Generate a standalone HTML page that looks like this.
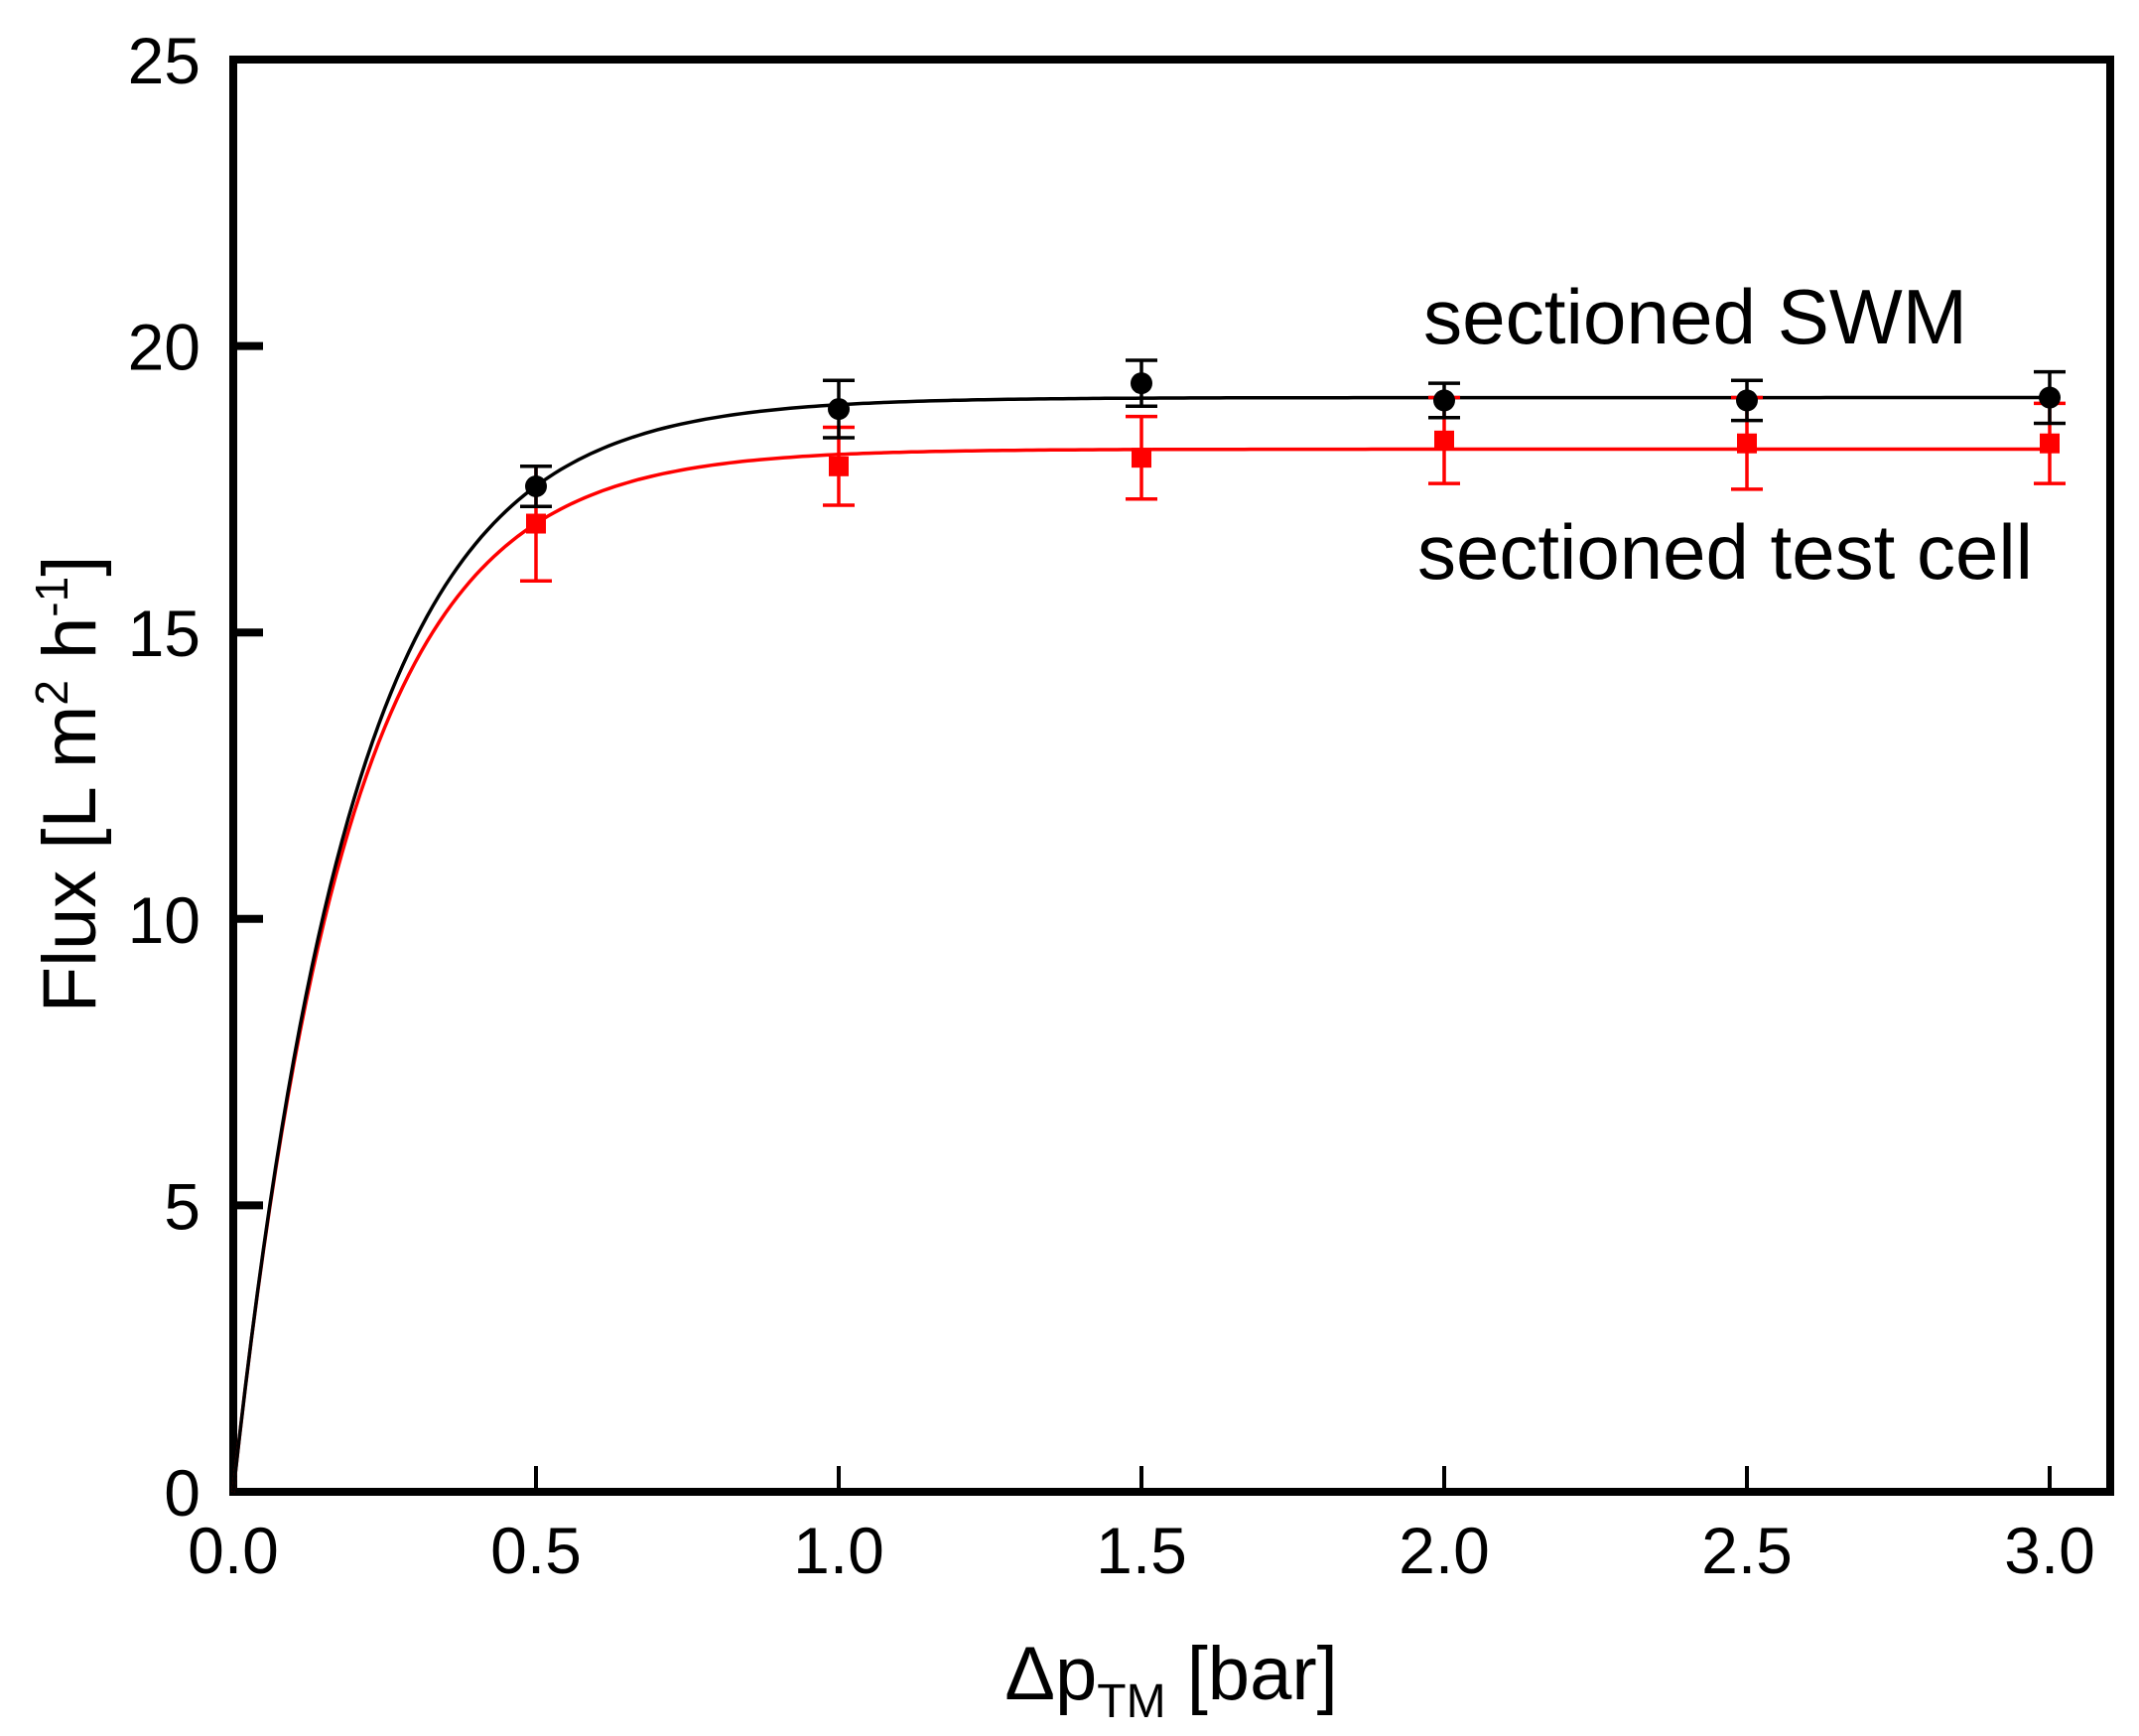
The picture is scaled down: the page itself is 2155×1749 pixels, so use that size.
<!DOCTYPE html>
<html><head><meta charset="utf-8"><style>
html,body{margin:0;padding:0;background:#fff;}
svg{display:block;font-family:"Liberation Sans",Arial,sans-serif;}
</style></head><body>
<svg id="chart" width="2155" height="1749" viewBox="0 0 2155 1749" xmlns="http://www.w3.org/2000/svg">
<g id="plot"></g>
<text x="1434" y="346" font-size="78" textLength="548" lengthAdjust="spacingAndGlyphs">sectioned SWM</text>
<text x="1428" y="583" font-size="78" textLength="620" lengthAdjust="spacingAndGlyphs">sectioned test cell</text>
<text transform="translate(96,790) rotate(-90)" text-anchor="middle" font-size="76">Flux [L m<tspan font-size="46" dy="-28">2</tspan><tspan dy="28"> h</tspan><tspan font-size="46" dy="-28">-1</tspan><tspan dy="28">]</tspan></text>
<text x="1180" y="1712" text-anchor="middle" font-size="76">Δp<tspan font-size="48" dy="18">TM</tspan><tspan dy="-18"> [bar]</tspan></text>
</svg>
<script>
const xTicks = [0.0, 0.5, 1.0, 1.5, 2.0, 2.5, 3.0];
const xTickLabels = ["0.0","0.5","1.0","1.5","2.0","2.5","3.0"];
const yTicks = [0, 5, 10, 15, 20, 25];
const yTickLabels = ["0","5","10","15","20","25"];
const pressure = [0.5, 1.0, 1.5, 2.0, 2.5, 3.0];
const swmFlux = [17.55, 18.9, 19.35, 19.05, 19.05, 19.1];
const swmErr = [0.35, 0.5, 0.4, 0.3, 0.35, 0.45];
const cellFlux = [16.9, 17.9, 18.05, 18.35, 18.3, 18.3];
const cellErr = [1.0, 0.68, 0.72, 0.75, 0.8, 0.7];
const swmFit = [19.1, 5.03];
const cellFit = [18.2, 5.28];

const NS = "http://www.w3.org/2000/svg";
const X0 = 235, X1 = 2126, Y0 = 1503, Y1 = 60;
const sx = v => X0 + v * 610;
const sy = v => Y0 - v * (Y0 - Y1) / 25;
const g = document.getElementById('plot');
function mk(tag, attrs) {
  const e = document.createElementNS(NS, tag);
  for (const k in attrs) e.setAttribute(k, attrs[k]);
  g.appendChild(e);
  return e;
}
const frame = mk('rect', {x: X0, y: Y1, width: X1 - X0, height: Y0 - Y1, fill: 'none', stroke: '#000', 'stroke-width': 8});


xTicks.forEach((t, i) => {
  const l = mk('line', {x1: sx(t), x2: sx(t), y1: Y0, y2: Y0 - 26, stroke: '#000', 'stroke-width': 4});
  
  
  const tx = mk('text', {x: sx(t), y: 1585, 'text-anchor': 'middle', 'font-size': 66});
  tx.textContent = xTickLabels[i];
  
  
});
yTicks.forEach((t, i) => {
  if (t > 0 && t < 25) {
    const l = mk('line', {x1: X0, x2: X0 + 30, y1: sy(t), y2: sy(t), stroke: '#000', 'stroke-width': 8});
    
    
  }
  const tx = mk('text', {x: 202, y: sy(t) + 24, 'text-anchor': 'end', 'font-size': 66});
  tx.textContent = yTickLabels[i];
  
  
});
function fitPath(p) {
  let d = '';
  for (let i = 0; i <= 300; i++) {
    const x = 3.0 * i / 300;
    const y = p[0] * (1 - Math.exp(-p[1] * x));
    d += (i ? 'L' : 'M') + sx(x).toFixed(1) + ',' + sy(y).toFixed(1);
  }
  return d;
}
const fc = mk('path', {d: fitPath(cellFit), fill: 'none', stroke: '#ff0000', 'stroke-width': 3.5});


const fs = mk('path', {d: fitPath(swmFit), fill: 'none', stroke: '#000', 'stroke-width': 3.5});


function errBar(x, y, e, col, name) {
  const a = mk('path', {d: `M${sx(x)},${sy(y - e)}V${sy(y + e)}M${sx(x) - 16},${sy(y - e)}h32M${sx(x) - 16},${sy(y + e)}h32`, stroke: col, 'stroke-width': 3.5, fill: 'none'});
  
  
}
pressure.forEach((p, i) => {
  errBar(p, cellFlux[i], cellErr[i], '#ff0000', 'error-bar-test-cell');
  const s = mk('rect', {x: sx(p) - 10, y: sy(cellFlux[i]) - 10, width: 20, height: 20, fill: '#ff0000'});
  
  
});
pressure.forEach((p, i) => {
  errBar(p, swmFlux[i], swmErr[i], '#000', 'error-bar-swm');
  const c = mk('circle', {cx: sx(p), cy: sy(swmFlux[i]), r: 11, fill: '#000'});
  
  
});
</script>
</body></html>
